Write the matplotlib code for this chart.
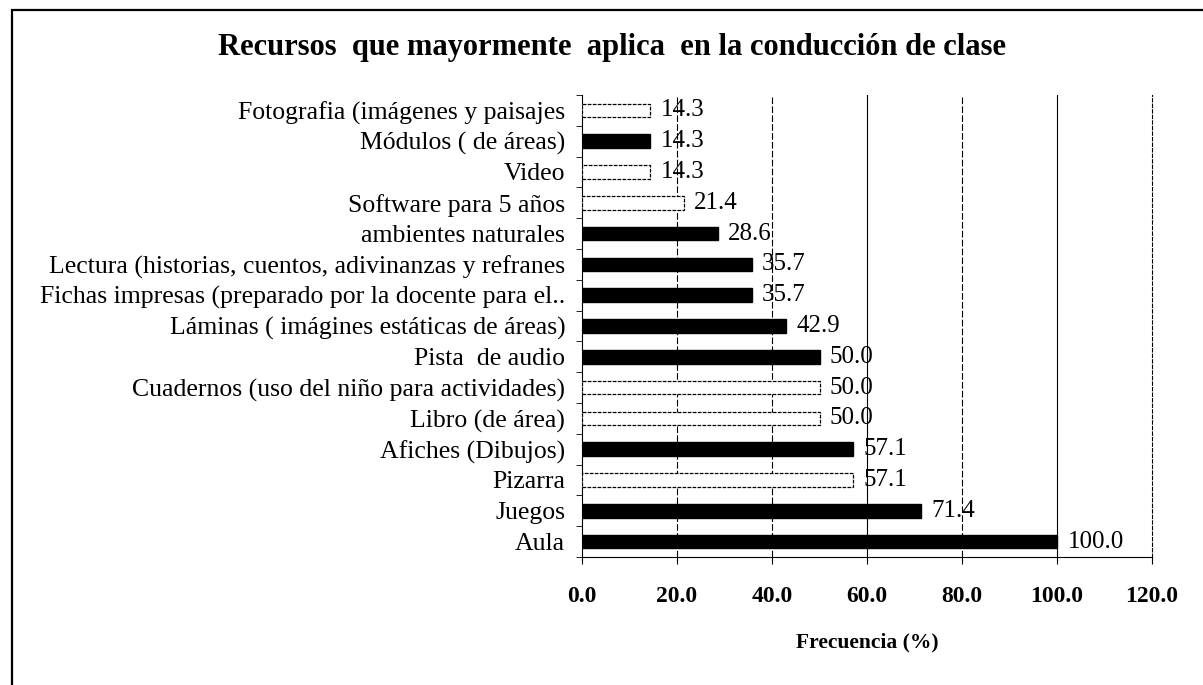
import matplotlib
matplotlib.use("Agg")
import matplotlib.pyplot as plt
from matplotlib.patches import Rectangle

plt.rcParams["font.family"] = ["Liberation Serif", "DejaVu Serif"]

# Resources, listed bottom to top as they appear on the y axis
categories = [
    "Aula",
    "Juegos",
    "Pizarra",
    "Afiches (Dibujos)",
    "Libro (de área)",
    "Cuadernos (uso del niño para actividades)",
    "Pista  de audio",
    "Láminas ( imágines estáticas de áreas)",
    "Fichas impresas (preparado por la docente para el..",
    "Lectura (historias, cuentos, adivinanzas y refranes",
    "ambientes naturales",
    "Software para 5 años",
    "Video",
    "Módulos ( de áreas)",
    "Fotografia (imágenes y paisajes",
]
values = [100.0, 71.4, 57.1, 57.1, 50.0, 50.0, 50.0, 42.9, 35.7, 35.7,
          28.6, 21.4, 14.3, 14.3, 14.3]
filled = [True, True, False, True, False, False, True, True, True, True,
          True, False, False, True, False]
x_ticks = [0, 20, 40, 60, 80, 100, 120]

fig = plt.figure(figsize=(12.03, 6.85), dpi=100)
ax = fig.add_axes([582 / 1203, 1 - 557 / 685, (1152 - 582) / 1203, (557 - 95) / 685])

# Outer frame (top and left edges visible)
fig.patches.append(Rectangle((12 / 1203, -0.05), 1.1, 1.05 - 10 / 685,
                             transform=fig.transFigure, fill=False,
                             edgecolor="black", linewidth=1.6))

ypos = list(range(len(categories)))
for y, v, f in zip(ypos, values, filled):
    if f:
        ax.barh(y, v, height=0.44, color="black", edgecolor="black", zorder=3)
    else:
        ax.barh(y, v, height=0.44, color="white", edgecolor="black",
                linewidth=0.9, linestyle=(0, (3, 1)), zorder=3)
    ax.text(v + 2.2, y, f"{v:.1f}", va="center", ha="left", fontsize=18,
            zorder=4)

ax.set_xlim(0, 120)
ax.set_ylim(-0.5, len(categories) - 0.5)
ax.set_xticks(x_ticks)
ax.set_xticklabels([f"{t:.1f}" for t in x_ticks], fontsize=17, fontweight="bold")
ax.set_yticks(ypos)
ax.set_yticklabels(categories, fontsize=18.5)
ax.tick_params(axis="y", length=0, pad=12)
ax.set_yticks([i + 0.5 for i in range(-1, len(categories))], minor=True)
ax.tick_params(axis="y", which="minor", length=4, direction="out")
ax.tick_params(axis="x", length=5, direction="out", pad=16)

# Vertical gridlines: solid at 60 and 100, dashed elsewhere
for t in x_ticks[1:-1]:
    ls = "-" if t in (60, 100) else (0, (6, 2))
    ax.axvline(t, color="black", linewidth=0.8, linestyle=ls, zorder=1)
ax.spines["top"].set_visible(False)
ax.spines["right"].set_linestyle((0, (3, 2)))
ax.spines["right"].set_linewidth(0.8)

ax.set_xlabel("Frecuencia (%)", fontsize=15.5, fontweight="bold", labelpad=18)

fig.text(612 / 1203, 1 - 48 / 685,
         "Recursos  que mayormente  aplica  en la conducción de clase",
         ha="center", va="center", fontsize=22, fontweight="bold")

fig.savefig("out.png", dpi=100)
